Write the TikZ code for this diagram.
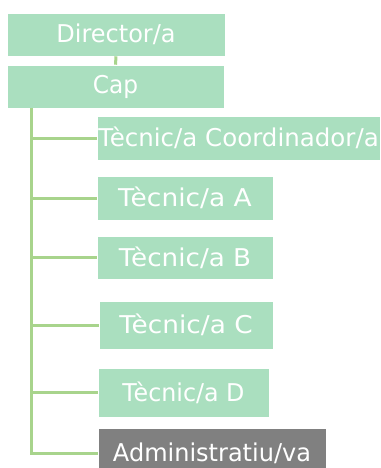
\documentclass[tikz,border=0pt]{standalone}
\usepackage{fontspec}
\setmainfont{DejaVu Sans}
\usepackage{graphicx}
\definecolor{boxgreen}{RGB}{170,223,191}
\definecolor{linegreen}{RGB}{168,212,140}
\definecolor{boxgray}{RGB}{128,128,128}
\newcommand{\wx}[2]{\scalebox{#1}[1]{#2}}
\begin{document}
\begin{tikzpicture}[x=1pt,y=-1pt,
  orgbox/.style={fill=boxgreen, draw=white, line width=0.6pt, inner sep=0pt, text=white,
    font=\fontsize{24.5}{27}\selectfont, align=center},
  conn/.style={draw=linegreen, line width=3pt}]
\useasboundingbox (0,0) rectangle (380,468);
\node[orgbox, minimum width=218, minimum height=43] (dir) at (116,34.5) {\wx{0.98}{Director/a}};
\node[orgbox, minimum width=217, minimum height=43] (cap) at (115.5,86.5) {\wx{0.95}{Cap}};
\node[orgbox, minimum width=283, minimum height=44] (coord) at (238.5,138) {\wx{1.0}{Tècnic/a Coordinador/a}};
\node[orgbox, minimum width=176, minimum height=44] (ta) at (185,198) {\wx{1.08}{Tècnic/a A}};
\node[orgbox, minimum width=176, minimum height=43] (tb) at (185,257.5) {\wx{1.07}{Tècnic/a B}};
\node[orgbox, minimum width=174, minimum height=48] (tc) at (186,325) {\wx{1.075}{Tècnic/a C}};
\node[orgbox, minimum width=171, minimum height=49] (td) at (183.5,392.5) {\wx{0.97}{Tècnic/a D}};
\node[orgbox, fill=boxgray, minimum width=228, minimum height=50] (adm) at (212,453) {\wx{0.98}{Administratiu/va}};
\coordinate (top) at (31,108);
\coordinate (bot) at (31,453);
\draw[conn] (dir.south) -- (cap.north);
\draw[conn] (top) -- (bot) -- (adm.west);
\draw[conn] (coord.west -| top) -- (coord.west);
\draw[conn] (ta.west -| top) -- (ta.west);
\draw[conn] (tb.west -| top) -- (tb.west);
\draw[conn] (tc.west -| top) -- (tc.west);
\draw[conn] (td.west -| top) -- (td.west);
\end{tikzpicture}
\end{document}
